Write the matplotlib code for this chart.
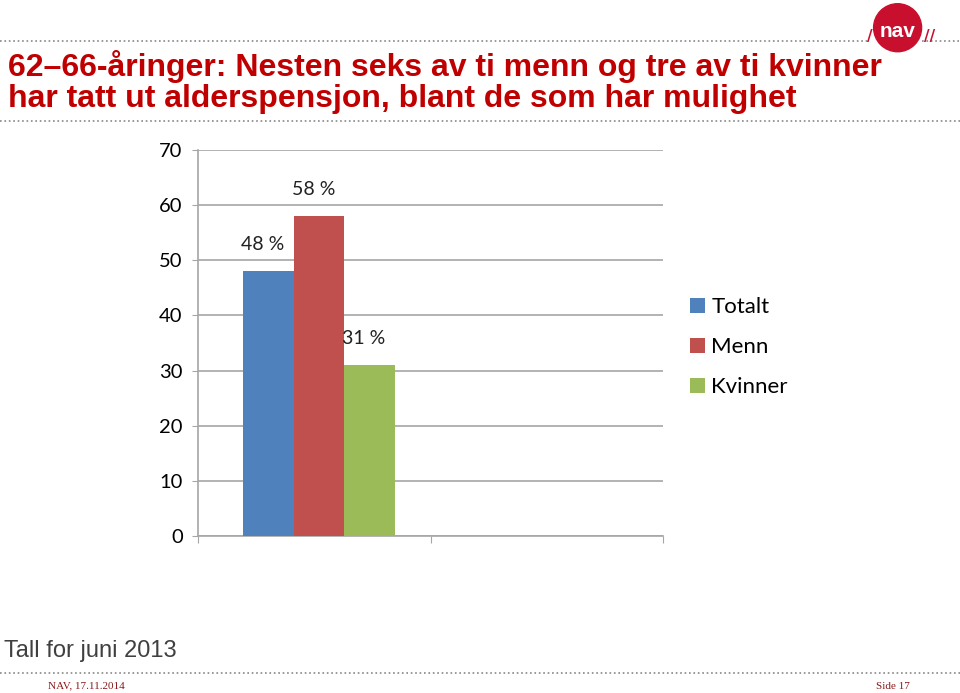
import numpy as np
import matplotlib.pyplot as plt
from matplotlib.patches import Ellipse

# data
categories = ['', '']
series = ['Totalt', 'Menn', 'Kvinner']
totalt = [48, np.nan]
menn = [58, np.nan]
kvinner = [31, np.nan]
labels = [['48 %', ''], ['58 %', ''], ['31 %', '']]
colors = ['#4F81BD', '#C0504D', '#9BBB59']

title = '62\u201366-åringer: Nesten seks av ti menn og tre av ti kvinner\nhar tatt ut alderspensjon, blant de som har mulighet'
note = 'Tall for juni 2013'

fig = plt.figure(figsize=(9.6, 6.93), dpi=100)
ax = fig.add_axes([0.20625, 0.2266, 0.4844, 0.5569])

x = np.arange(len(categories))
w = 0.218
for i, (vals, name) in enumerate(zip([totalt, menn, kvinner], series)):
    bars = ax.bar(x + 0.02 + (i - 1) * w, vals, w, color=colors[i], label=name, zorder=3)
    for b, lab in zip(bars, labels[i]):
        if lab:
            ax.annotate(lab, (b.get_x() + b.get_width() / 2, b.get_height()),
                        xytext=(-4, 13), textcoords='offset points',
                        ha='center', va='bottom', fontsize=14, family='Lato',
                        color='#222222')

ax.set_xlim(-0.5, 1.5)
ax.set_ylim(0, 70)
ax.set_yticks(range(0, 71, 10))
ax.set_xticks([-0.5, 0.5, 1.5])
ax.set_xticklabels([])
ax.grid(axis='y', color='#A6A6A6', lw=1.2, zorder=0)
for s in ['top', 'right']:
    ax.spines[s].set_visible(False)
for s in ['left', 'bottom']:
    ax.spines[s].set_color('#A6A6A6')
    ax.spines[s].set_linewidth(1.2)
ax.tick_params(axis='y', length=4, color='#A6A6A6', labelsize=14.5, pad=7)
ax.tick_params(axis='x', length=5, color='#A6A6A6')
for t in ax.get_yticklabels():
    t.set_family('Lato')

leg = fig.legend(loc='upper left', bbox_to_anchor=(0.698, 0.6), frameon=False,
                 prop={'family': 'Lato', 'size': 16}, handlelength=0.65,
                 handleheight=0.65, handletextpad=0.3, labelspacing=0.9)

# title and frame
fig.text(0.008, 0.882, title, color='#C00000', fontsize=23, fontweight='bold',
         family='Liberation Sans', va='center', linespacing=1.05)
fig.add_artist(plt.Line2D([0, 0.905], [0.941, 0.941], color='#888888', ls=':', lw=1.2))
fig.add_artist(plt.Line2D([0.96, 1], [0.941, 0.941], color='#888888', ls=':', lw=1.2))
fig.add_artist(plt.Line2D([0, 1], [0.826, 0.826], color='#888888', ls=':', lw=1.2))
fig.add_artist(plt.Line2D([0, 1], [0.029, 0.029], color='#888888', ls=':', lw=1.2))

# logo
fig.add_artist(Ellipse((0.935, 0.96), 0.05, 0.05 * 960 / 693,
                       transform=fig.transFigure, color='#C8102E', zorder=5))
fig.text(0.935, 0.955, 'nav', color='white', fontsize=15, fontweight='bold',
         ha='center', va='center', zorder=6, family='Liberation Sans')
fig.text(0.906, 0.948, '/', color='#C8102E', fontsize=11, fontweight='bold',
         ha='center', va='center', zorder=6)
fig.text(0.968, 0.948, '//', color='#C8102E', fontsize=11, fontweight='bold',
         ha='center', va='center', zorder=6)

fig.text(0.004, 0.06, note, color='#404040', fontsize=17, family='Liberation Sans',
         va='center')
fig.text(0.05, 0.01, 'NAV, 17.11.2014', color='#8B1A1A', fontsize=8,
         family='Liberation Serif', va='center')
fig.text(0.912, 0.01, 'Side 17', color='#8B1A1A', fontsize=8,
         family='Liberation Serif', va='center')

fig.savefig('out.png', dpi=100)
